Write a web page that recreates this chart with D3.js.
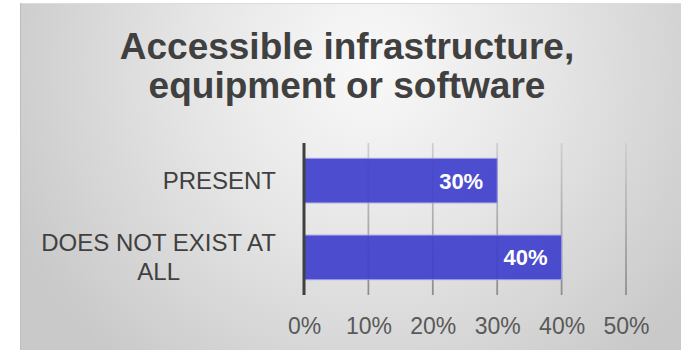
<!DOCTYPE html>
<html>
<head>
<meta charset="utf-8">
<script src="https://cdn.jsdelivr.net/npm/d3@7/dist/d3.min.js"></script>
<style>
  html, body { margin: 0; padding: 0; background: #ffffff; }
  svg { display: block; font-family: "Liberation Sans", Arial, Helvetica, sans-serif; }
</style>
</head>
<body>
<svg id="chart" width="681" height="350"></svg>
<script>
// Chart content
const titleLines = ["Accessible infrastructure,", "equipment or software"];
const categories = ["PRESENT", "DOES NOT EXIST AT ALL"];
const categoryLines = [["PRESENT"], ["DOES NOT EXIST AT", "ALL"]];
const values = [0.30, 0.40];
const tickValues = [0, 0.1, 0.2, 0.3, 0.4, 0.5];

const svg = d3.select("#chart");
const defs = svg.append("defs");

// Soft radial background fill
const bg = defs.append("radialGradient")
  .attr("id", "bgGrad")
  .attr("gradientUnits", "userSpaceOnUse")
  .attr("cx", 370).attr("cy", 65).attr("r", 390);
bg.append("stop").attr("offset", "0").attr("stop-color", "#f9f9f9");
bg.append("stop").attr("offset", "0.45").attr("stop-color", "#e6e6e6");
bg.append("stop").attr("offset", "1").attr("stop-color", "#c9c9c9");

// Gridlines get darker towards the bottom
const gg = defs.append("linearGradient")
  .attr("id", "gridGrad")
  .attr("gradientUnits", "userSpaceOnUse")
  .attr("x1", 0).attr("y1", 143).attr("x2", 0).attr("y2", 295);
gg.append("stop").attr("offset", "0").attr("stop-color", "#cfcfcf");
gg.append("stop").attr("offset", "1").attr("stop-color", "#8c8c8c");

// Chart area
svg.append("rect")
  .attr("x", 20).attr("y", 3)
  .attr("width", 670).attr("height", 360)
  .attr("fill", "url(#bgGrad)");
svg.append("line")
  .attr("x1", 20).attr("x2", 681).attr("y1", 3.5).attr("y2", 3.5)
  .attr("stroke", "#dcdcdc").attr("stroke-width", 1);
svg.append("line")
  .attr("x1", 20.5).attr("x2", 20.5).attr("y1", 3).attr("y2", 350)
  .attr("stroke", "#bdbdbd").attr("stroke-width", 1);

// Title
svg.append("text")
  .attr("x", 347)
  .attr("text-anchor", "middle")
  .attr("font-size", 37)
  .attr("font-weight", "bold")
  .attr("fill", "#404040")
  .selectAll("tspan")
  .data(titleLines)
  .join("tspan")
  .attr("x", 347)
  .attr("y", (d, i) => 59 + i * 39)
  .text(d => d);

// Scales
const x = d3.scaleLinear().domain([0, 0.5]).range([304, 626]);
const y = d3.scaleBand().domain(categories).range([143, 295])
  .paddingInner(0.42).paddingOuter(0.2);

// Vertical gridlines
svg.append("g")
  .selectAll("line")
  .data(tickValues.slice(1))
  .join("line")
  .attr("x1", d => x(d)).attr("x2", d => x(d))
  .attr("y1", 143).attr("y2", 295)
  .attr("stroke", "url(#gridGrad)")
  .attr("stroke-width", 1.75);

// Bars
svg.append("g")
  .selectAll("rect")
  .data(values)
  .join("rect")
  .attr("x", x(0))
  .attr("y", (d, i) => y(categories[i]))
  .attr("width", d => x(d) - x(0))
  .attr("height", y.bandwidth())
  .attr("fill", "#3f3fcc")
  .attr("fill-opacity", 0.92)
  .attr("stroke", "#9a9ae6")
  .attr("stroke-width", 1);

// Category axis line
svg.append("line")
  .attr("x1", x(0)).attr("x2", x(0))
  .attr("y1", 143).attr("y2", 295)
  .attr("stroke", "#404040")
  .attr("stroke-width", 3);

// Value labels inside bar ends
svg.append("g")
  .selectAll("text")
  .data(values)
  .join("text")
  .attr("x", d => x(d) - 14)
  .attr("y", (d, i) => y(categories[i]) + y.bandwidth() / 2 + 8)
  .attr("text-anchor", "end")
  .attr("font-size", 22)
  .attr("font-weight", "bold")
  .attr("fill", "#ffffff")
  .text(d => d3.format(".0%")(d));

// Value axis tick labels
const xAxis = svg.append("g")
  .attr("transform", "translate(0,295)")
  .call(d3.axisBottom(x).tickValues(tickValues).tickFormat(d3.format(".0%")).tickSize(0).tickPadding(0));
xAxis.select(".domain").remove();
xAxis.selectAll("text")
  .attr("dy", null)
  .attr("y", 39)
  .attr("font-family", "\"Liberation Sans\", Arial, sans-serif")
  .attr("font-size", 23)
  .attr("fill", "#595959");

// Category labels: block right-aligned, lines centered within the block
const labelRight = 276;
const lineGap = 29;
categories.forEach((cat, i) => {
  const lines = categoryLines[i];
  const cy = y(cat) + y.bandwidth() / 2;
  const t = svg.append("text")
    .attr("font-size", 24)
    .attr("fill", "#404040")
    .attr("text-anchor", "middle");
  const spans = t.selectAll("tspan").data(lines).join("tspan")
    .attr("y", (d, j) => cy + 8.5 + (j - (lines.length - 1) / 2) * lineGap)
    .text(d => d);
  let maxW = 0;
  spans.each(function() { maxW = Math.max(maxW, this.getComputedTextLength()); });
  spans.attr("x", labelRight - maxW / 2);
});
</script>
</body>
</html>
